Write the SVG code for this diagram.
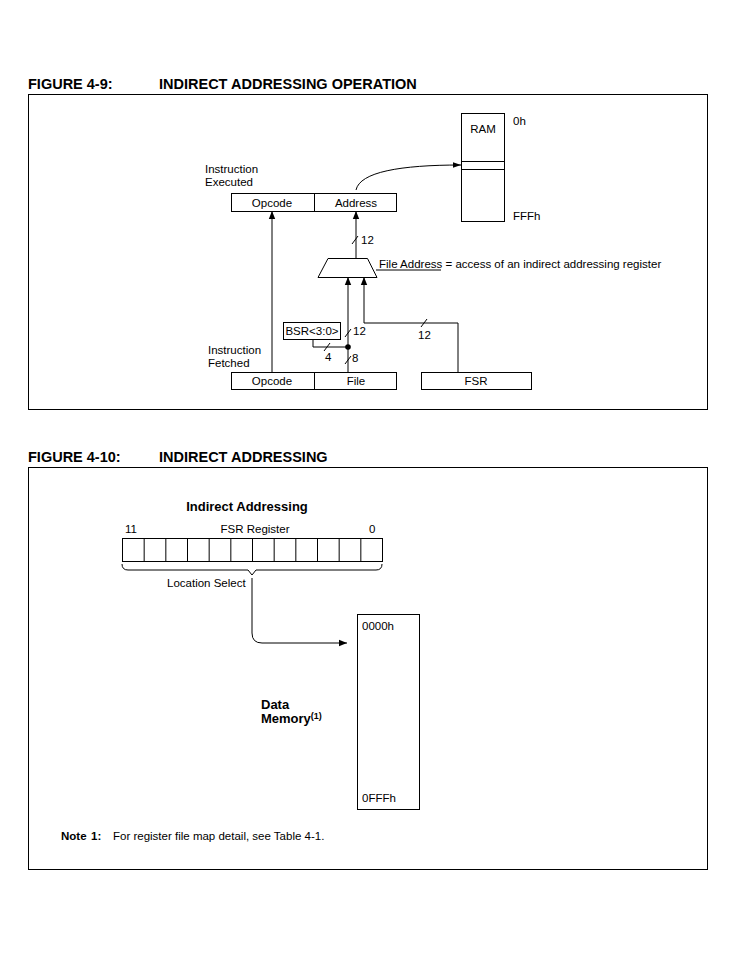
<svg xmlns="http://www.w3.org/2000/svg" width="746" height="978" viewBox="0 0 746 978">
<defs>
<marker id="ah" viewBox="0 0 10 10" refX="10" refY="5" markerWidth="8" markerHeight="8" markerUnits="userSpaceOnUse" orient="auto"><path d="M0,1 L10,5 L0,9 Z" fill="#000"/></marker>
<marker id="ahl" viewBox="0 0 10 10" refX="10" refY="5" markerWidth="10" markerHeight="8" markerUnits="userSpaceOnUse" orient="auto"><path d="M0,1.5 L10,5 L0,8.5 Z" fill="#000"/></marker>
</defs>
<style>
text{font-family:"Liberation Sans",Arial,sans-serif;font-size:11.5px;fill:#000}
.t{font-size:14.5px;font-weight:bold}
.b{font-weight:bold}
.ih{font-size:13px;font-weight:bold}
.box{fill:#fff;stroke:#000;stroke-width:1}
.ln{fill:none;stroke:#000;stroke-width:1}
.m{text-anchor:middle}
</style>
<rect width="746" height="978" fill="#fff"/>

<!-- Figure 4-9 -->
<text class="t" x="28" y="89">FIGURE 4-9:</text>
<text class="t" x="159" y="89">INDIRECT ADDRESSING OPERATION</text>
<rect x="28.5" y="94.5" width="679" height="315" class="ln"/>

<g id="connectors">
<path class="ln" d="M356,190 C360,172 400,165 461,165" marker-end="url(#ahl)"/>
<line class="ln" x1="272" y1="372" x2="272" y2="211" marker-end="url(#ah)"/>
<line class="ln" x1="356" y1="258" x2="356" y2="211" marker-end="url(#ah)"/>
<line class="ln" x1="352" y1="244" x2="358" y2="236"/>
<line class="ln" x1="348" y1="372" x2="348" y2="277" marker-end="url(#ah)"/>
<path class="ln" d="M458,372 V323 H364 V277" marker-end="url(#ah)"/>
<line class="ln" x1="421" y1="327" x2="427" y2="319"/>
<path class="ln" d="M313,339 V347 H348"/>
<line class="ln" x1="324" y1="351" x2="330" y2="343"/>
<line class="ln" x1="345" y1="337" x2="351" y2="329"/>
<line class="ln" x1="345" y1="364" x2="351" y2="356"/>
<circle cx="348" cy="347" r="2.8" fill="#000"/>
<line class="ln" x1="376" y1="270" x2="441" y2="270"/>
<path class="ln" d="M252,578 V633 Q252,643 262,643 H347" marker-end="url(#ah)"/>
</g>

<g id="ram">
<rect class="box" x="461.5" y="113.5" width="43" height="108"/>
<line class="ln" x1="461.5" y1="161.5" x2="504.5" y2="161.5"/>
<line class="ln" x1="461.5" y1="169.5" x2="504.5" y2="169.5"/>
<text class="m" x="483" y="133">RAM</text>
<text x="513" y="125">0h</text>
<text x="513" y="220">FFFh</text>
</g>

<g id="instr-exec">
<text x="205" y="173">Instruction</text>
<text x="205" y="186">Executed</text>
<rect class="box" x="231.5" y="193.5" width="165" height="18"/>
<line class="ln" x1="314.5" y1="193.5" x2="314.5" y2="211.5"/>
<text class="m" x="272" y="207">Opcode</text>
<text class="m" x="356" y="207">Address</text>
</g>

<g id="mux">
<path class="box" d="M328,258.5 H367.5 L377,277.5 H318 Z"/>
<text x="361" y="244">12</text>
<text x="379" y="268">File Address = access of an indirect addressing register</text>
</g>

<g id="bsr">
<rect class="box" x="283.5" y="322.5" width="57" height="17"/>
<text class="m" x="312" y="335">BSR&lt;3:0&gt;</text>
<text x="353" y="335">12</text>
<text x="325" y="361">4</text>
<text x="352" y="362">8</text>
<text x="418" y="339">12</text>
</g>

<g id="instr-fetch">
<text x="208" y="354">Instruction</text>
<text x="208" y="367">Fetched</text>
<rect class="box" x="231.5" y="372.5" width="165" height="17"/>
<line class="ln" x1="314.5" y1="372.5" x2="314.5" y2="389.5"/>
<text class="m" x="272" y="385">Opcode</text>
<text class="m" x="356" y="385">File</text>
</g>

<g id="fsr">
<rect class="box" x="421.5" y="372.5" width="110" height="17"/>
<text class="m" x="476" y="385">FSR</text>
</g>

<!-- Figure 4-10 -->
<text class="t" x="28" y="462">FIGURE 4-10:</text>
<text class="t" x="159" y="462">INDIRECT ADDRESSING</text>
<rect x="28.5" y="467.5" width="679" height="402" class="ln"/>

<g id="fsr-register">
<text class="ih m" x="247" y="511">Indirect Addressing</text>
<text x="125" y="533">11</text>
<text class="m" x="255" y="533">FSR Register</text>
<text x="369" y="533">0</text>
<rect class="box" x="122.5" y="538.5" width="260" height="23"/>
<line class="ln" x1="144.17" y1="538.5" x2="144.17" y2="561.5"/>
<line class="ln" x1="165.83" y1="538.5" x2="165.83" y2="561.5"/>
<line class="ln" x1="187.5" y1="538.5" x2="187.5" y2="561.5"/>
<line class="ln" x1="209.17" y1="538.5" x2="209.17" y2="561.5"/>
<line class="ln" x1="230.83" y1="538.5" x2="230.83" y2="561.5"/>
<line class="ln" x1="252.5" y1="538.5" x2="252.5" y2="561.5"/>
<line class="ln" x1="274.17" y1="538.5" x2="274.17" y2="561.5"/>
<line class="ln" x1="295.83" y1="538.5" x2="295.83" y2="561.5"/>
<line class="ln" x1="317.5" y1="538.5" x2="317.5" y2="561.5"/>
<line class="ln" x1="339.17" y1="538.5" x2="339.17" y2="561.5"/>
<line class="ln" x1="360.83" y1="538.5" x2="360.83" y2="561.5"/>
<path class="ln" d="M122,564 Q122,570 128,570 H248 L252,575 L256,570 H376 Q382,570 382,564"/>
<text x="167" y="587">Location Select</text>
</g>

<g id="data-memory">
<rect class="box" x="357.5" y="614.5" width="62" height="195"/>
<text x="362" y="630">0000h</text>
<text x="362" y="802">0FFFh</text>
<text class="b" x="261" y="709" style="font-size:13px">Data</text>
<text class="b" x="261" y="723" style="font-size:13px">Memory<tspan dy="-4" style="font-size:9px">(1)</tspan></text>
</g>

<g id="note">
<text class="b" x="61" y="840">Note</text>
<text class="b" x="91" y="840">1:</text>
<text x="113" y="840">For register file map detail, see Table 4-1.</text>
</g>
</svg>
